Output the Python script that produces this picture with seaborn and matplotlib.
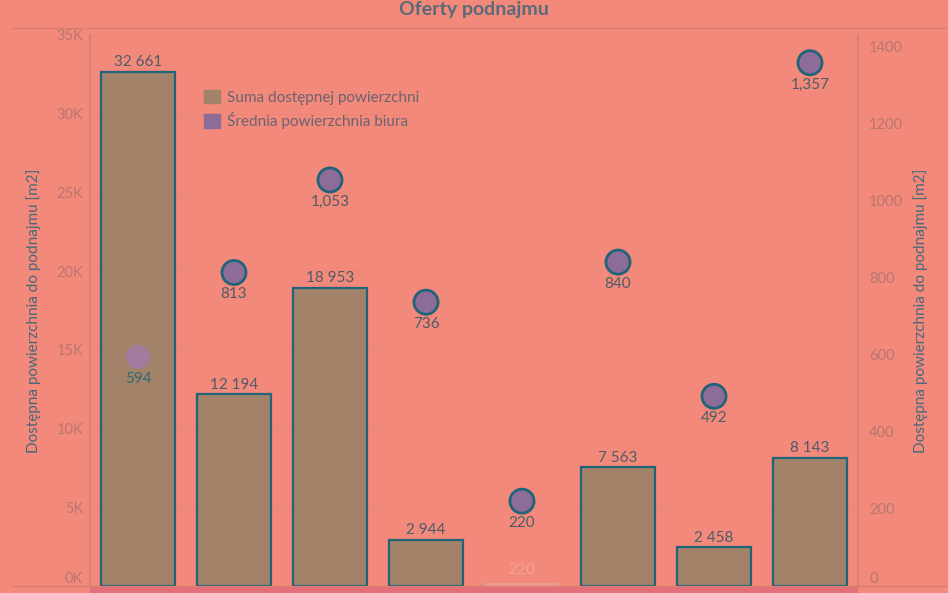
import matplotlib
matplotlib.use("Agg")
import matplotlib.pyplot as plt
import seaborn as sns
import numpy as np
import pandas as pd
from matplotlib.patches import Rectangle
from matplotlib.lines import Line2D

# ---- data ----
categories = ["A", "B", "C", "D", "E", "F", "G", "H"]
total_area = [32661, 12194, 18953, 2944, 220, 7563, 2458, 8143]
avg_office = [594, 813, 1053, 736, 220, 840, 492, 1357]
left_ticks = [0, 5000, 10000, 15000, 20000, 25000, 30000, 35000]
left_tick_labels = ["0K", "5K", "10K", "15K", "20K", "25K", "30K", "35K"]
right_ticks = [0, 200, 400, 600, 800, 1000, 1200, 1400]
title = "Oferty podnajmu"
axis_title = "Dostępna powierzchnia do podnajmu [m2]"
legend_labels = ["Suma dostępnej powierzchni", "Średnia powierzchnia biura"]

BG = "#F2897A"
BAR = "#A3826A"
BAR_FADED = "#EB9C8C"
EDGE = "#1F6478"
DOT = "#8E6C98"
DOT_FADED = "#A27C9E"
TXT = "#4C5C68"
TICK = "#B8766E"
GRID = "#EC8676"
AX_TITLE = "#48687A"

sns.set_theme(style="white")
plt.rcParams["font.family"] = ["Lato", "DejaVu Sans"]

fig = plt.figure(figsize=(9.48, 5.93), dpi=100, facecolor=BG)
ax = fig.add_axes([90 / 948, 1 - 586 / 593, 768 / 948, 551 / 593])
ax.set_facecolor("none")

df = pd.DataFrame({"cat": categories, "total": total_area, "avg": avg_office})
bar_colors = [BAR_FADED if v == 220 else BAR for v in total_area]
sns.barplot(data=df, x="cat", y="total", hue="cat", palette=bar_colors,
            legend=False, ax=ax, width=0.78, saturation=1)
for i, p in enumerate(ax.patches):
    if total_area[i] == 220:
        p.set_edgecolor("none")
    else:
        p.set_edgecolor(EDGE)
        p.set_linewidth(1.6)

ax.set_xlim(-0.5, len(categories) - 0.5)
ax.set_ylim(0, 35000)
ax.set_yticks(left_ticks)
ax.set_yticklabels(left_tick_labels)
ax.tick_params(axis="y", length=0, labelsize=10.5, labelcolor=TICK, pad=5)
ax.set_xticks([])
ax.set_xlabel("")
ax.set_ylabel(axis_title, fontsize=11, color=AX_TITLE, labelpad=11)
ax.grid(axis="y", color=GRID, linewidth=0.8)
ax.set_axisbelow(True)
for s in ["top", "bottom"]:
    ax.spines[s].set_visible(False)
ax.spines["left"].set_color("#D97E70")
ax.spines["right"].set_color("#D97E70")
ax.yaxis.get_majorticklabels()[0].set_va("bottom")

for i, v in enumerate(total_area):
    lab = f"{v:,}".replace(",", " ")
    if v == 220:
        ax.text(i, 550, lab, ha="center", va="bottom", fontsize=11, color="#F2A291")
    else:
        ax.text(i, v + 150, lab, ha="center", va="bottom", fontsize=11, color=TXT)

ax2 = ax.twinx()
ax2.set_facecolor("none")
dot_colors = [DOT_FADED if i == 0 else DOT for i in range(len(categories))]
edge_colors = ["none" if i == 0 else EDGE for i in range(len(categories))]
sns.scatterplot(data=df, x="cat", y="avg", ax=ax2, s=300, c=dot_colors,
                edgecolor=edge_colors, linewidth=2, legend=False, zorder=5)
ax2.set_ylim(0, 1429)
ax2.set_yticks(right_ticks)
ax2.set_yticklabels([str(t) for t in right_ticks])
ax2.yaxis.get_majorticklabels()[0].set_va("bottom")
ax2.tick_params(axis="y", length=0, labelsize=10.5, labelcolor=TICK, pad=8)
ax2.set_ylabel(axis_title, fontsize=11, color=AX_TITLE, labelpad=7)
ax2.set_xlabel("")
for s in ["top", "bottom", "left", "right"]:
    ax2.spines[s].set_visible(False)
ax2.set_xlim(-0.5, len(categories) - 0.5)

for i, v in enumerate(avg_office):
    ax2.text(i, v - 38, f"{v:,}", ha="center", va="top", fontsize=11,
             color="#2E6A72" if i == 0 else TXT, zorder=6)

# legend
handles = [Rectangle((0, 0), 1, 1, color=BAR), Rectangle((0, 0), 1, 1, color=DOT)]
leg = ax.legend(handles, legend_labels, loc="upper left", bbox_to_anchor=(0.141, 0.912),
                frameon=False, fontsize=11, handlelength=1.0, handleheight=1.0,
                handletextpad=0.45, labelspacing=0.5, borderaxespad=0)
for t in leg.get_texts():
    t.set_color("#6A6470")

# title and frame lines
fig.text(0.5, 1 - 9 / 593, title, ha="center", va="center", fontsize=14,
         fontweight="bold", color="#5A6A78")
fig.add_artist(Line2D([11 / 948, 1], [1 - 28 / 593] * 2, color="#D97E70", lw=0.9))
fig.add_artist(Line2D([11 / 948, 1], [1 - 586 / 593] * 2, color="#D97E70", lw=0.9))
fig.add_artist(Rectangle((90 / 948, 0), 768 / 948, 6 / 593, transform=fig.transFigure,
                         color="#E2707A", lw=0))

fig.savefig("out.png", dpi=100, facecolor=BG)
